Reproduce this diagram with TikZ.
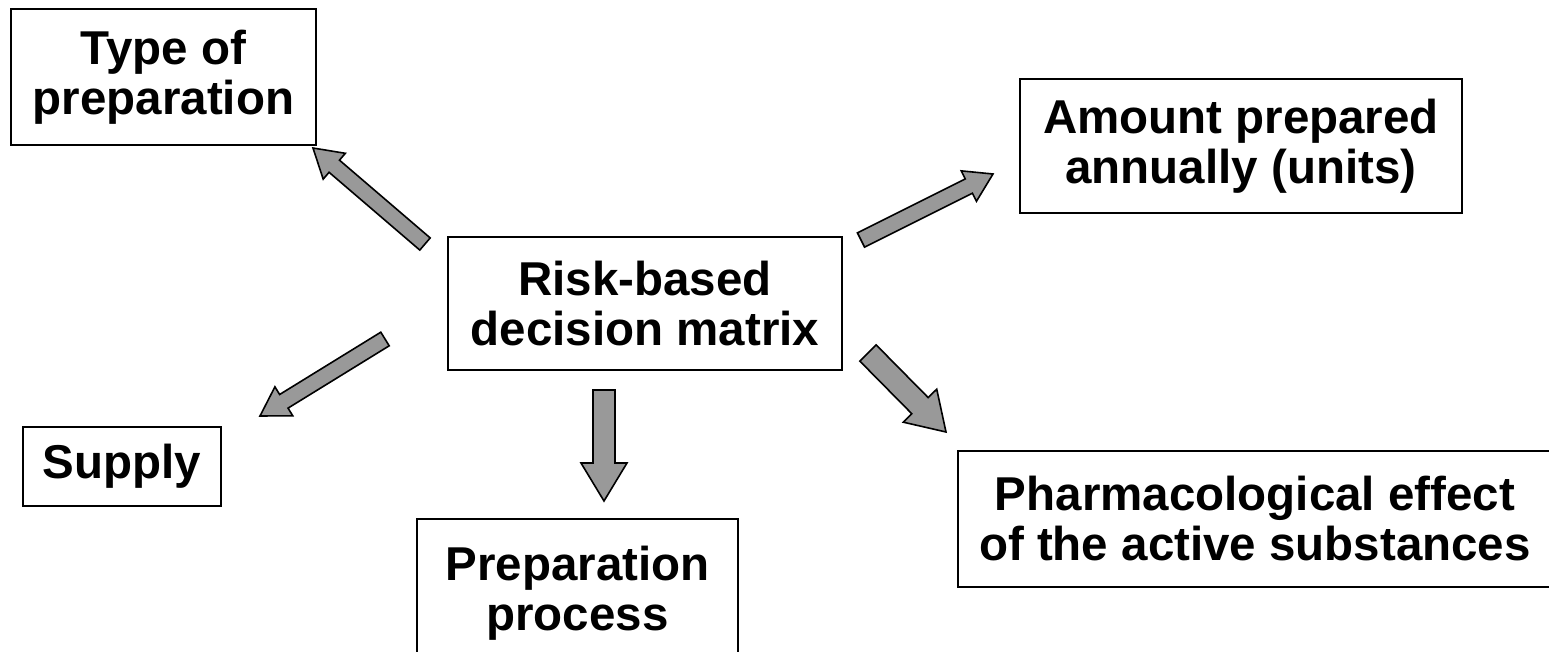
\documentclass[tikz,border=0pt]{standalone}
\usepackage{fontspec}
\setmainfont{Liberation Sans}
\usetikzlibrary{calc}
\tikzset{
  box/.style={draw=black, line width=1pt, fill=white, align=center, inner sep=0pt,
    font=\bfseries\fontsize{23.75}{25}\selectfont},
  blk/.style={draw=black, line width=0.8pt, fill=black!40, line join=miter},
}
\newcommand\blockarr[5]{%
  \coordinate (ba-h) at ($(#2)!#5!(#1)$);
  \draw[blk] ($(#1)!#3!90:(#2)$) -- ($(ba-h)!#3!90:(#2)$) -- ($(ba-h)!#4!90:(#2)$)
    -- (#2) -- ($(ba-h)!#4!-90:(#2)$) -- ($(ba-h)!#3!-90:(#2)$) -- ($(#1)!#3!-90:(#2)$) -- cycle;}
\begin{document}
\begin{tikzpicture}[x=0.5pt,y=-0.5pt]
\useasboundingbox (0,0) rectangle (1549,652);
% boxes
\node[box, minimum width=152.5pt, minimum height=68pt] (type) at (163.5,77) {Type of\\preparation};
\node[box, minimum width=221pt, minimum height=67pt] (amount) at (1241,146) {Amount prepared\\annually (units)};
\node[box, minimum width=197pt, minimum height=66.5pt] (risk) at (645,303.5) {Risk-based\\decision matrix};
\node[box, minimum width=99pt, minimum height=39.5pt] (supply) at (122,466.5) {Supply};
\node[box, minimum width=160.5pt, minimum height=74.5pt] (prep) at (577.5,593.5) {Preparation\\process};
\node[box, minimum width=297pt, minimum height=68pt] (pharma) at (1255,519) {Pharmacological effect\\of the active substances};
% arrow ends
\coordinate (t1) at (425,244); \coordinate (p1) at (313,148);
\coordinate (t2) at (861,240); \coordinate (p2) at (993,174);
\coordinate (t3) at (385,339); \coordinate (p3) at (260,416);
\coordinate (t4) at (604,390); \coordinate (p4) at (604,501);
\coordinate (t5) at (868,353); \coordinate (p5) at (946,432);
\blockarr{t1}{p1}{4pt}{8.5pt}{14pt}
\blockarr{t2}{p2}{4pt}{8.5pt}{13.5pt}
\blockarr{t3}{p3}{4pt}{8.5pt}{14pt}
\blockarr{t4}{p4}{5.5pt}{11.5pt}{19pt}
\blockarr{t5}{p5}{5.75pt}{11.75pt}{18.5pt}
\end{tikzpicture}
\end{document}
